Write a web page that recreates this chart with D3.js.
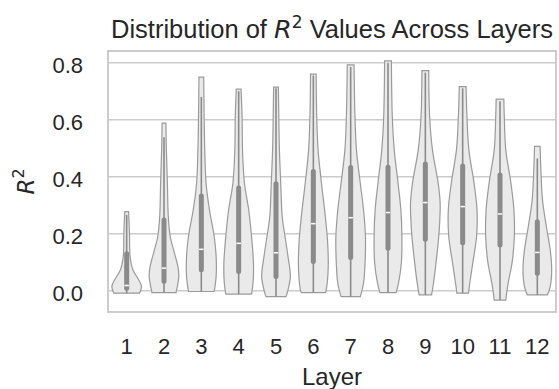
<!DOCTYPE html>
<html>
<head>
<meta charset="utf-8">
<script src="https://cdn.jsdelivr.net/npm/d3@7"></script>
<style>
  body { margin: 0; background: #fff; }
  svg { display: block; font-family: "Liberation Sans", Arial, sans-serif; }
</style>
</head>
<body>
<svg id="main-svg" width="559" height="389"></svg>
<script>
// Layers on the x axis
const layers = [1, 2, 3, 4, 5, 6, 7, 8, 9, 10, 11, 12];

// Box statistics
const q1s      = [0.008, 0.033, 0.073, 0.067, 0.050, 0.102, 0.116, 0.149, 0.180, 0.168, 0.160, 0.061];
const medians  = [0.018, 0.079, 0.145, 0.166, 0.133, 0.235, 0.256, 0.274, 0.309, 0.295, 0.269, 0.134];
const q3s      = [0.129, 0.248, 0.332, 0.360, 0.375, 0.418, 0.432, 0.433, 0.444, 0.437, 0.406, 0.242];
const whiskHi  = [0.266, 0.538, 0.680, 0.700, 0.710, 0.755, 0.785, 0.800, 0.765, 0.710, 0.665, 0.464];

// Violin outlines: R^2 levels and relative density (1 = widest)
const profileValues = [
    [-0.009, 0.015, 0.038, 0.073, 0.12, 0.20, 0.277],
    [-0.007, 0.014, 0.05, 0.085, 0.131, 0.19, 0.26, 0.377, 0.494, 0.588],
    [-0.003, 0.05, 0.12, 0.19, 0.283, 0.377, 0.494, 0.611, 0.749],
    [-0.012, 0.026, 0.096, 0.19, 0.283, 0.377, 0.494, 0.611, 0.707],
    [-0.021, 0.002, 0.05, 0.12, 0.19, 0.26, 0.377, 0.494, 0.611, 0.714],
    [-0.007, 0.002, 0.073, 0.166, 0.26, 0.377, 0.494, 0.611, 0.76],
    [-0.021, 0.026, 0.096, 0.19, 0.283, 0.377, 0.494, 0.611, 0.792],
    [-0.007, 0.026, 0.096, 0.19, 0.283, 0.377, 0.494, 0.611, 0.806],
    [-0.015, 0.026, 0.12, 0.213, 0.307, 0.377, 0.494, 0.611, 0.772],
    [-0.009, 0.026, 0.096, 0.19, 0.283, 0.377, 0.494, 0.611, 0.716],
    [-0.033, 0.026, 0.096, 0.19, 0.283, 0.377, 0.494, 0.611, 0.672],
    [-0.015, 0.014, 0.073, 0.143, 0.225, 0.318, 0.436, 0.506]
];
const profileDensity = [
    [0.87, 1.00, 0.81, 0.42, 0.23, 0.19, 0.13],
    [0.81, 0.90, 1.00, 0.94, 0.71, 0.42, 0.29, 0.23, 0.16, 0.13],
    [0.87, 1.00, 1.00, 0.87, 0.55, 0.32, 0.23, 0.19, 0.16],
    [0.87, 0.97, 1.00, 0.87, 0.68, 0.39, 0.26, 0.23, 0.16],
    [0.68, 0.81, 0.97, 0.81, 0.61, 0.42, 0.32, 0.23, 0.19, 0.16],
    [0.81, 0.87, 1.00, 0.97, 0.81, 0.55, 0.32, 0.23, 0.19],
    [0.65, 0.87, 0.97, 1.00, 0.87, 0.65, 0.39, 0.29, 0.23],
    [0.55, 0.71, 0.90, 0.94, 0.87, 0.68, 0.42, 0.29, 0.23],
    [0.42, 0.55, 0.77, 0.94, 1.00, 0.87, 0.48, 0.29, 0.23],
    [0.39, 0.48, 0.68, 0.94, 0.97, 0.77, 0.42, 0.29, 0.23],
    [0.39, 0.55, 0.81, 0.97, 0.94, 0.74, 0.39, 0.29, 0.26],
    [0.68, 0.87, 0.97, 0.87, 0.61, 0.35, 0.23, 0.19]
];

const yTicks = [0.0, 0.2, 0.4, 0.6, 0.8];

const svg = d3.select('#main-svg');
const plotLeft = 108, plotRight = 556, plotTop = 51, plotBottom = 312;

const x = d3.scaleBand().domain(layers).range([plotLeft, plotRight]).padding(0);
const y = d3.scaleLinear().domain([-0.075, 0.841]).range([plotBottom, plotTop]);
const halfW = d3.scaleLinear().domain([0, 1]).range([0, 14.8]);

// grid lines
svg.append('g')
    .selectAll('line')
    .data(yTicks)
    .enter()
    .append('line')
    .attr('x1', plotLeft).attr('x2', plotRight)
    .attr('y1', d => y(d)).attr('y2', d => y(d))
    .attr('stroke', '#cccccc')
    .attr('stroke-width', 1.5);

// frame
svg.append('rect')
    .attr('x', plotLeft).attr('y', plotTop)
    .attr('width', plotRight - plotLeft).attr('height', plotBottom - plotTop)
    .attr('fill', 'none')
    .attr('stroke', '#cccccc')
    .attr('stroke-width', 2);

// violins
const area = d3.area()
    .curve(d3.curveCatmullRom)
    .y(d => y(d.v))
    .x0(d => d.cx - halfW(d.w))
    .x1(d => d.cx + halfW(d.w));

const g = svg.append('g');
layers.forEach((layer, i) => {
    const cx = x(layer) + x.bandwidth() / 2;
    const pts = profileValues[i].map((v, j) => ({ v: v, w: profileDensity[i][j], cx: cx }));
    g.append('path')
        .attr('d', area(pts))
        .attr('fill', '#eaeaea')
        .attr('stroke', '#9a9a9a')
        .attr('stroke-width', 1.2);

    // whisker
    g.append('line')
        .attr('x1', cx).attr('x2', cx)
        .attr('y1', y(profileValues[i][0])).attr('y2', y(whiskHi[i]))
        .attr('stroke', '#8a8a8a')
        .attr('stroke-width', 1.6);

    // box
    g.append('line')
        .attr('x1', cx).attr('x2', cx)
        .attr('y1', y(q1s[i])).attr('y2', y(q3s[i]))
        .attr('stroke', '#8a8a8a')
        .attr('stroke-width', 5)
        .attr('stroke-linecap', 'round');

    // median
    g.append('line')
        .attr('x1', cx - 2.2).attr('x2', cx + 2.2)
        .attr('y1', y(medians[i])).attr('y2', y(medians[i]))
        .attr('stroke', '#ffffff')
        .attr('stroke-width', 1.5);
});

// y tick labels
svg.append('g')
    .selectAll('text')
    .data(yTicks)
    .enter()
    .append('text')
    .attr('x', 83)
    .attr('y', d => y(d) + 10)
    .attr('text-anchor', 'end')
    .attr('font-size', 22)
    .attr('fill', '#262626')
    .text(d => d.toFixed(1));

// x tick labels
svg.append('g')
    .selectAll('text')
    .data(layers)
    .enter()
    .append('text')
    .attr('x', d => x(d) + x.bandwidth() / 2)
    .attr('y', 354)
    .attr('text-anchor', 'middle')
    .attr('font-size', 22)
    .attr('fill', '#262626')
    .text(d => d);

// x axis label
svg.append('text')
    .attr('x', (plotLeft + plotRight) / 2)
    .attr('y', 385)
    .attr('text-anchor', 'middle')
    .attr('font-size', 24)
    .attr('fill', '#262626')
    .text('Layer');

// y axis label: R^2
const yl = svg.append('text')
    .attr('transform', `translate(34, ${(plotTop + plotBottom) / 2}) rotate(-90)`)
    .attr('text-anchor', 'middle')
    .attr('font-size', 23)
    .attr('fill', '#262626');
yl.append('tspan').attr('font-family', 'DejaVu Sans').attr('font-style', 'italic').text('R');
yl.append('tspan').attr('font-family', 'DejaVu Sans').attr('font-size', 16).attr('dy', -10).text('2');

// title
const title = svg.append('text')
    .attr('x', (plotLeft + plotRight) / 2)
    .attr('y', 38)
    .attr('text-anchor', 'middle')
    .attr('font-size', 25.5)
    .attr('fill', '#262626');
title.append('tspan').text('Distribution of ');
title.append('tspan').attr('font-family', 'DejaVu Sans').attr('font-style', 'italic').text('R');
title.append('tspan').attr('font-family', 'DejaVu Sans').attr('font-size', 17).attr('dy', -10).text('2');
title.append('tspan').attr('dy', 10).text(' Values Across Layers');
</script>
</body>
</html>
